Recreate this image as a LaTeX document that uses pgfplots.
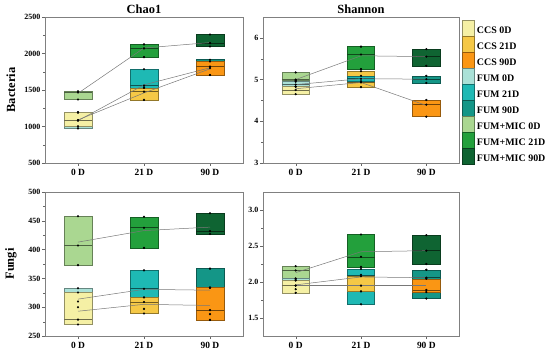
\documentclass[border=0pt]{standalone}
\usepackage{fontspec}
\setmainfont{Liberation Serif}
\usepackage{pgfplots}
\pgfplotsset{compat=1.18}

\definecolor{ccsA}{RGB}{245,240,165}
\definecolor{ccsB}{RGB}{245,200,70}
\definecolor{ccsC}{RGB}{250,150,20}
\definecolor{fumA}{RGB}{170,225,215}
\definecolor{fumB}{RGB}{30,185,180}
\definecolor{fumC}{RGB}{20,150,135}
\definecolor{mixA}{RGB}{170,215,145}
\definecolor{mixB}{RGB}{35,160,60}
\definecolor{mixC}{RGB}{15,100,50}
\definecolor{meanc}{RGB}{120,120,120}

% box: position, min, median, max, colour
\newcommand{\bx}[5]{%
  \pgfmathsetmacro\xl{#1-0.21}%
  \pgfmathsetmacro\xr{#1+0.21}%
  \addplot[fill=#5, draw=#5!60!black, line width=0.5bp, mark=none]
     coordinates {(\xl,#2) (\xr,#2) (\xr,#4) (\xl,#4)} -- cycle;
  \addplot[draw=#5!45!black, line width=0.6bp, mark=none]
     coordinates {(\xl,#3) (\xr,#3)};
  \addplot[only marks, mark=*, mark size=0.9bp, black] coordinates {(#1,#2) (#1,#3) (#1,#4)};
}

\pgfplotsset{every axis title shift=0pt}
\pgfplotsset{panel/.style={
  scale only axis,
  xmin=-0.5, xmax=2.5,
  xtick={0,1,2}, xticklabels={0 D,21 D,90 D},
  axis line style={black!50},
  tick style={black!60},
  tick align=outside, tick pos=left,
  major tick length=3bp, minor tick length=1.8bp,
  minor y tick num=1,
  scaled y ticks=false,
  /pgf/number format/1000 sep={},
  /pgf/number format/assume math mode=true,
  yticklabel style={font=\bfseries\fontsize{8}{9}\selectfont, inner sep=1.5bp},
  xticklabel style={font=\bfseries\fontsize{9.5}{11}\selectfont},
  title style={font=\bfseries\fontsize{12.5}{14}\selectfont, at={(axis description cs:0.5,1)}, anchor=south, inner sep=3.5bp},
  ylabel style={font=\bfseries\fontsize{12.5}{14}\selectfont, at={(axis description cs:-0.172,0.5)}, anchor=center},
}}

\begin{document}
\begin{tikzpicture}
\useasboundingbox (0bp,0bp) rectangle (550bp,352bp);

% ---------- Bacteria Chao1 ----------
\begin{axis}[panel, at={(45bp,189bp)}, anchor=south west, width=198bp, height=146bp,
  ymin=500, ymax=2500, ytick={500,1000,1500,2000,2500},
  title={Chao1}, ylabel={Bacteria}]
  \bx{0}{1370}{1465}{1482}{mixA}
  \bx{0}{974}{1080}{1190}{fumA}
  \bx{0}{1003}{1087}{1197}{ccsA}
  \bx{1}{1950}{2070}{2125}{mixB}
  \bx{1}{1530}{1560}{1785}{fumB}
  \bx{1}{1365}{1477}{1530}{ccsB}
  \bx{2}{2096}{2142}{2261}{mixC}
  \bx{2}{1705}{1800}{1915}{fumC}
  \bx{2}{1705}{1820}{1890}{ccsC}
  \addplot[meanc, line width=0.5bp] coordinates {(0,1455) (1,2075) (2,2150)};
  \addplot[meanc, line width=0.5bp] coordinates {(0,1080) (1,1570) (2,1805)};
  \addplot[meanc, line width=0.5bp] coordinates {(0,1090) (1,1460) (2,1790)};
\end{axis}

% ---------- Bacteria Shannon ----------
\begin{axis}[panel, at={(263bp,189bp)}, anchor=south west, width=196bp, height=146bp,
  ymin=3, ymax=6.5, ytick={3,4,5,6},
  title={Shannon},
  legend image code/.code={\draw[#1, line width=0.5bp] (0bp,-4.95bp) rectangle (12bp,10.55bp);},
  legend style={at={(1.015,0.979)}, anchor=north west, draw=none, fill=none,
    inner sep=0pt, outer sep=0pt, row sep=0pt, column sep=2.5bp,
    nodes={inner sep=0pt},
    font=\bfseries\fontsize{10}{11}\selectfont},
  legend cell align=left]
  \addlegendimage{fill=ccsA, draw=ccsA!60!black}\addlegendentry{CCS 0D}
  \addlegendimage{fill=ccsB, draw=ccsB!60!black}\addlegendentry{CCS 21D}
  \addlegendimage{fill=ccsC, draw=ccsC!60!black}\addlegendentry{CCS 90D}
  \addlegendimage{fill=fumA, draw=fumA!60!black}\addlegendentry{FUM 0D}
  \addlegendimage{fill=fumB, draw=fumB!60!black}\addlegendentry{FUM 21D}
  \addlegendimage{fill=fumC, draw=fumC!60!black}\addlegendentry{FUM 90D}
  \addlegendimage{fill=mixA, draw=mixA!60!black}\addlegendentry{FUM+MIC 0D}
  \addlegendimage{fill=mixB, draw=mixB!60!black}\addlegendentry{FUM+MIC 21D}
  \addlegendimage{fill=mixC, draw=mixC!60!black}\addlegendentry{FUM+MIC 90D}
  \bx{0}{4.98}{5.00}{5.17}{mixA}
  \bx{0}{4.83}{4.88}{4.95}{fumA}
  \bx{0}{4.65}{4.75}{4.83}{ccsA}
  \bx{1}{5.25}{5.60}{5.79}{mixB}
  \bx{1}{4.82}{4.93}{5.20}{ccsB}
  \bx{1}{4.96}{5.02}{5.09}{fumB}
  \bx{2}{5.33}{5.55}{5.73}{mixC}
  \bx{2}{4.92}{5.01}{5.09}{fumC}
  \bx{2}{4.11}{4.40}{4.51}{ccsC}
  \addplot[meanc, line width=0.5bp] coordinates {(0,5.00) (1,5.57) (2,5.55)};
  \addplot[meanc, line width=0.5bp] coordinates {(0,4.88) (1,5.02) (2,5.01)};
  \addplot[meanc, line width=0.5bp] coordinates {(0,4.78) (1,4.93) (2,4.38)};
\end{axis}

% ---------- Fungi Chao1 ----------
\begin{axis}[panel, at={(45bp,16bp)}, anchor=south west, width=198bp, height=144bp,
  ymin=250, ymax=500, ytick={250,300,350,400,450,500},
  ylabel={Fungi}]
  \bx{0}{373}{407}{458}{mixA}
  \bx{0}{300}{310}{333}{fumA}
  \bx{0}{270}{278.5}{325.5}{ccsA}
  \bx{1}{403}{438}{457}{mixB}
  \bx{1}{297}{332}{364}{fumB}
  \bx{1}{289}{309}{317}{ccsB}
  \bx{2}{427}{432}{463}{mixC}
  \bx{2}{288}{334}{367}{fumC}
  \bx{2}{278}{295}{334}{ccsC}
  \addplot[meanc, line width=0.5bp] coordinates {(0,413) (1,433) (2,439)};
  \addplot[meanc, line width=0.5bp] coordinates {(0,314) (1,331) (2,329.5)};
  \addplot[meanc, line width=0.5bp] coordinates {(0,293) (1,305) (2,303)};
\end{axis}

% ---------- Fungi Shannon ----------
\begin{axis}[panel, at={(263bp,16bp)}, anchor=south west, width=196bp, height=144bp,
  ymin=1.25, ymax=3.25, ytick={1.5,2.0,2.5,3.0},
  yticklabel style={/pgf/number format/.cd, fixed, fixed zerofill, precision=1}]
  \bx{0}{2.04}{2.16}{2.22}{mixA}
  \bx{0}{1.90}{1.95}{2.05}{fumA}
  \bx{0}{1.85}{1.95}{2.02}{ccsA}
  \bx{1}{2.21}{2.35}{2.66}{mixB}
  \bx{1}{1.69}{2.10}{2.18}{fumB}
  \bx{1}{1.87}{1.95}{2.08}{ccsB}
  \bx{2}{2.25}{2.435}{2.65}{mixC}
  \bx{2}{1.77}{2.06}{2.17}{fumC}
  \bx{2}{1.86}{1.89}{2.045}{ccsC}
  \addplot[meanc, line width=0.5bp] coordinates {(0,2.13) (1,2.42) (2,2.435)};
  \addplot[meanc, line width=0.5bp] coordinates {(0,1.96) (1,2.07) (2,2.06)};
  \addplot[meanc, line width=0.5bp] coordinates {(0,1.95) (1,1.95) (2,1.95)};
\end{axis}
\end{tikzpicture}
\end{document}
